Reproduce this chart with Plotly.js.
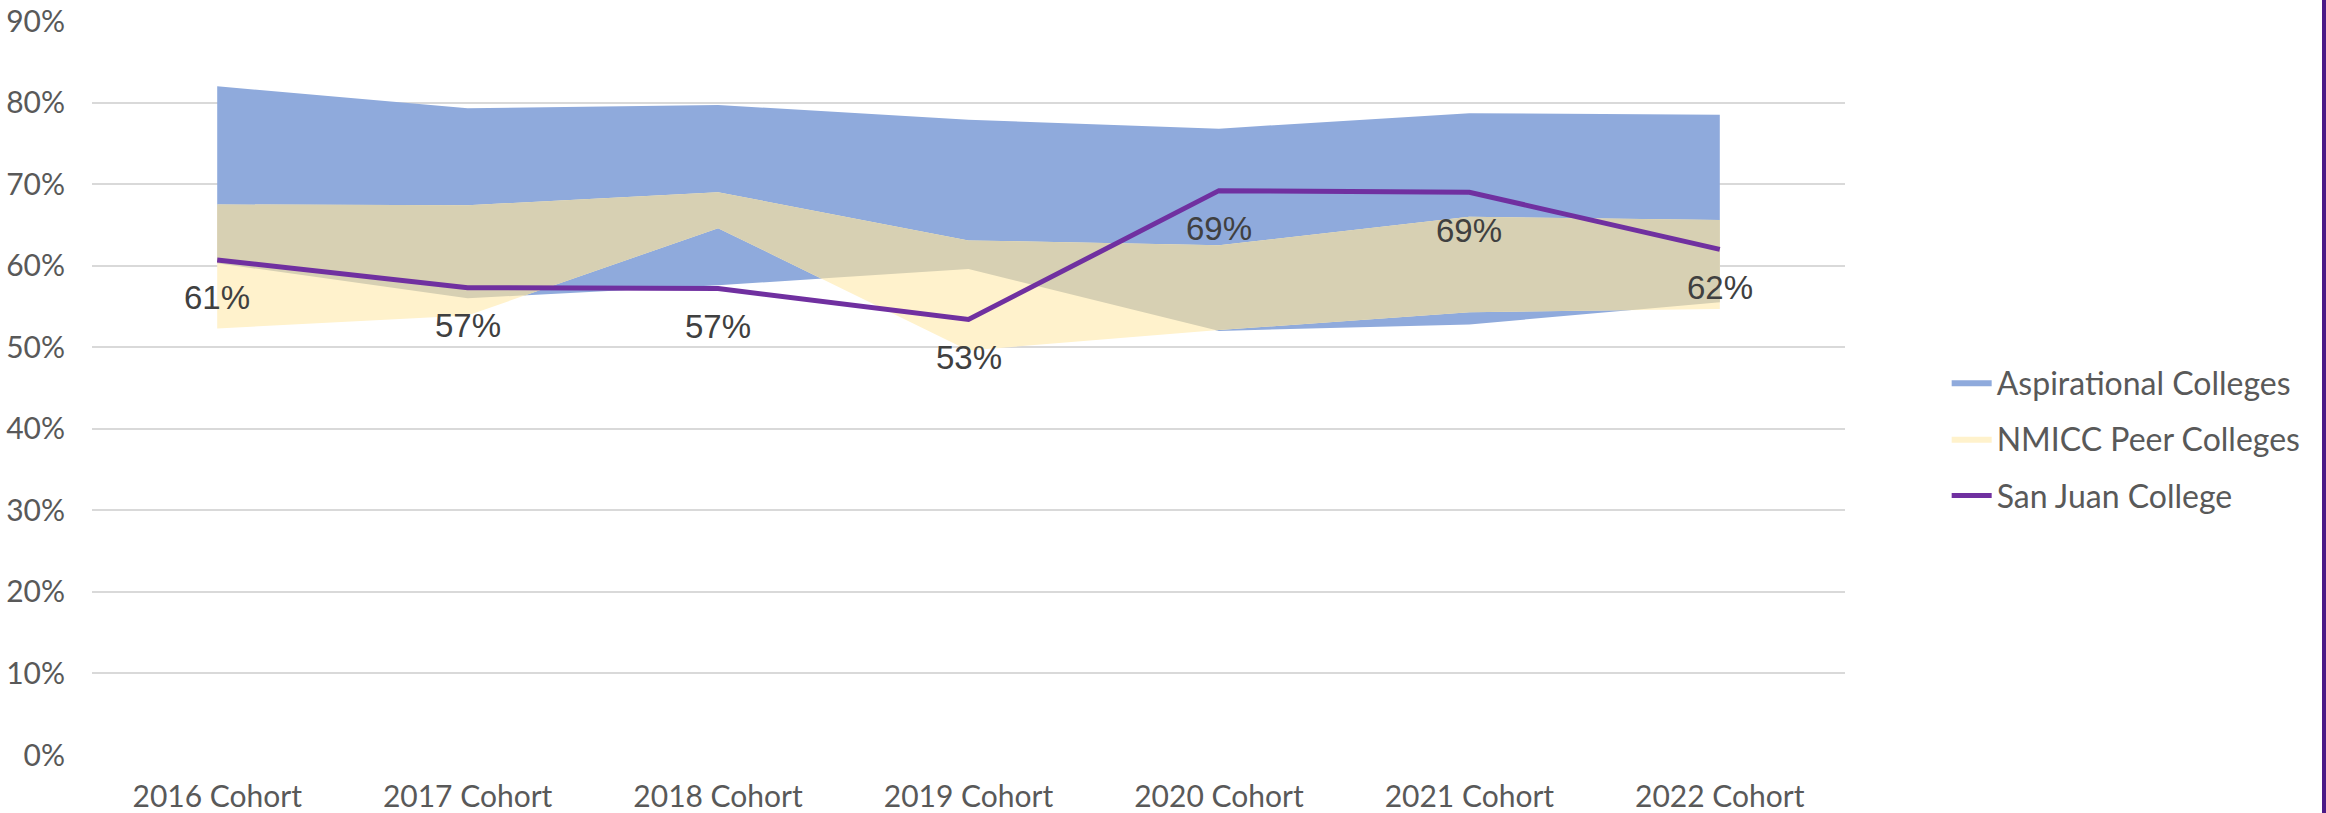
<!DOCTYPE html>
<html>
<head>
<meta charset="utf-8">
<script src="https://cdn.plot.ly/plotly-3.0.1.min.js"></script>
<style>
  html, body { margin: 0; padding: 0; background: #fff; }
  #chart { width: 2326px; height: 813px; }
</style>
</head>
<body>
<div id="chart"></div>
<script>
// values in percent
const cohorts   = ["2016 Cohort", "2017 Cohort", "2018 Cohort", "2019 Cohort", "2020 Cohort", "2021 Cohort", "2022 Cohort"];
const aspirMax  = [82.0, 79.3, 79.7, 77.9, 76.8, 78.7, 78.5];
const aspirMin  = [60.3, 56.0, 57.6, 59.6, 52.0, 52.8, 55.5];
const peerMax   = [67.5, 67.4, 69.0, 63.1, 62.5, 66.0, 65.6];
const peerMin   = [52.3, 53.9, 64.6, 49.6, 52.1, 54.3, 54.7];
const sanJuan   = [60.7, 57.3, 57.2, 53.4, 69.2, 69.0, 62.0];
const yTicks    = [0, 10, 20, 30, 40, 50, 60, 70, 80, 90];

const COLORS = {
    aspir:   "#8faadc",
    peer:    "#fff2cc",
    overlap: "#d7d0b3",
    sjc:     "#7030a0",
    grid:    "#d9d9d9",
    tick:    "#595959",
    label:   "#404040",
    border:  "#4b1a86",
};

const xs = cohorts.map((_, i) => i);

// edge of two piecewise-linear series (min or max), with the crossing points put in
function envelope(a, b, pick) {
    const px = [], py = [];
    for (let i = 0; i < a.length; i++) {
        px.push(i); py.push(pick(a[i], b[i]));
        if (i < a.length - 1) {
            const d0 = a[i] - b[i], d1 = a[i + 1] - b[i + 1];
            if (d0 * d1 < 0) {
                const t = d0 / (d0 - d1);
                px.push(i + t); py.push(a[i] + t * (a[i + 1] - a[i]));
            }
        }
    }
    return { x: px, y: py };
}

// region where both bands overlap, drawn in its own tan colour
const upperEdge = envelope(aspirMax, peerMax, Math.min);
const lowerEdge = envelope(aspirMin, peerMin, Math.max);
const overlapX = upperEdge.x.concat(lowerEdge.x.slice().reverse());
const overlapY = upperEdge.y.concat(lowerEdge.y.slice().reverse());

const hidden = { mode: "lines", line: { width: 0 }, showlegend: false, hoverinfo: "skip", type: "scatter" };

const traces = [
    { ...hidden, x: xs, y: aspirMin, legendgroup: "a" },
    { x: xs, y: aspirMax, type: "scatter", mode: "lines", line: { width: 0 },
      fill: "tonexty", fillcolor: COLORS.aspir, name: "Aspirational Colleges",
      legendgroup: "a", hoverinfo: "skip" },
    { ...hidden, x: xs, y: peerMin, legendgroup: "b" },
    { x: xs, y: peerMax, type: "scatter", mode: "lines", line: { width: 0 },
      fill: "tonexty", fillcolor: COLORS.peer, name: "NMICC Peer Colleges",
      legendgroup: "b", hoverinfo: "skip" },
    { ...hidden, x: overlapX, y: overlapY, fill: "toself", fillcolor: COLORS.overlap, legendgroup: "b" },
    { x: xs, y: sanJuan, type: "scatter", mode: "lines",
      line: { color: COLORS.sjc, width: 5 }, name: "San Juan College",
      legendgroup: "c", hoverinfo: "skip" },
];

const annotations = sanJuan.map((v, i) => ({
    x: i, y: v, xref: "x", yref: "y",
    text: Math.round(v) + "%",
    showarrow: false, yshift: -38,
    font: { family: "Liberation Sans, Arial, sans-serif", size: 33, color: COLORS.label },
}));

const layout = {
    width: 2326, height: 813,
    margin: { t: 21, b: 58, l: 92, r: 481 },
    paper_bgcolor: "#fff",
    plot_bgcolor: "#fff",
    font: { family: "Lato, Open Sans, sans-serif", size: 30, color: COLORS.tick },
    xaxis: {
        range: [-0.5, 6.5],
        tickvals: xs, ticktext: cohorts,
        showgrid: false, zeroline: false, showline: false,
        ticks: "", ticklabelstandoff: 21,
        tickfont: { size: 30, color: COLORS.tick },
        fixedrange: true,
    },
    yaxis: {
        range: [0, 90],
        tickvals: yTicks, ticktext: yTicks.map((t) => t + "%"),
        gridcolor: COLORS.grid, gridwidth: 2,
        zeroline: false, showline: false,
        ticks: "", ticklabelstandoff: 26,
        tickfont: { size: 30, color: COLORS.tick },
        fixedrange: true,
    },
    legend: {
        x: 1.058, xanchor: "left",
        y: 0.545, yanchor: "top",
        traceorder: "grouped",
        font: { size: 32, color: COLORS.tick },
        tracegroupgap: 12,
        itemwidth: 40,
        bgcolor: "rgba(0,0,0,0)",
    },
    showlegend: true,
    annotations,
    shapes: [{
        type: "rect", xref: "paper", yref: "paper",
        xsizemode: "pixel", xanchor: 1, x0: 477, x1: 482,
        ysizemode: "pixel", yanchor: 0, y0: -70, y1: 800,
        fillcolor: COLORS.border, line: { width: 0 },
    }],
};

Plotly.newPlot("chart", traces, layout, { displayModeBar: false, staticPlot: true });
</script>
</body>
</html>
